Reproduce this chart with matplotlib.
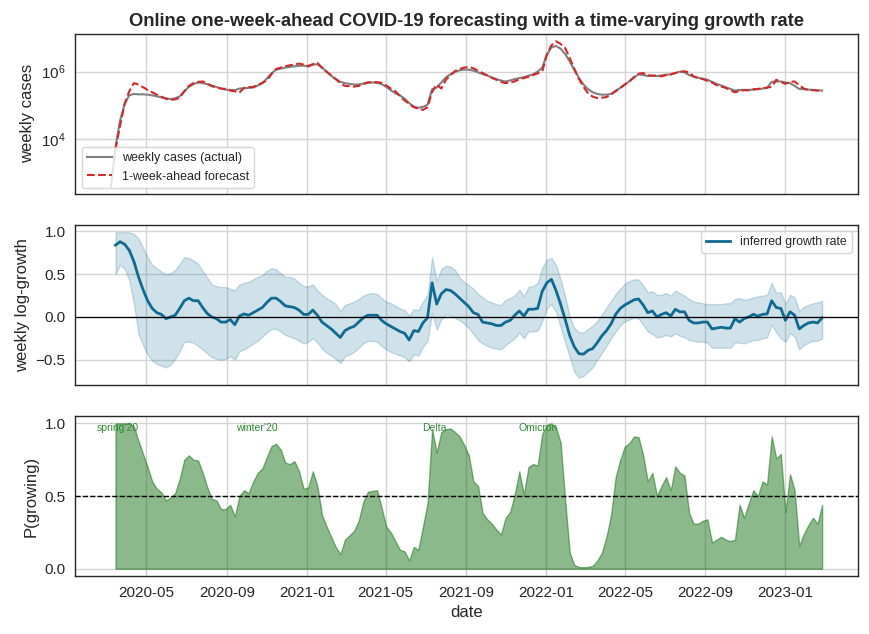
import numpy as np
import pandas as pd
import matplotlib
matplotlib.use("Agg")
import matplotlib.pyplot as plt
import matplotlib.dates as mdates
from matplotlib.ticker import FixedLocator

# ---------------- data (weekly) ----------------
actual_start = "2020-03-08"
model_start = "2020-03-15"

# log10 of weekly cases (actual), weekly from 2020-03-08
log10_actual = [
    2.60, 3.77, 4.55, 5.05, 5.30, 5.34, 5.33, 5.33, 5.32, 5.30, 5.27, 5.24, 5.21, 5.19,
    5.21, 5.27, 5.42, 5.55, 5.63, 5.68, 5.66, 5.63, 5.59, 5.55, 5.50, 5.47, 5.46, 5.45,
    5.50, 5.51, 5.52, 5.53, 5.59, 5.66, 5.80, 5.95, 6.06, 6.09, 6.12, 6.14, 6.16, 6.17,
    6.18, 6.15, 6.21, 6.22, 6.12, 6.00, 5.88, 5.78, 5.70, 5.66, 5.64, 5.62, 5.62, 5.65,
    5.68, 5.68, 5.67, 5.63, 5.55, 5.45, 5.36, 5.30, 5.20, 5.07, 4.97, 4.93, 4.96, 5.02,
    5.48, 5.53, 5.68, 5.83, 5.92, 5.99, 6.04, 6.06, 6.06, 6.03, 5.98, 5.93, 5.89, 5.83,
    5.78, 5.74, 5.71, 5.74, 5.78, 5.81, 5.84, 5.88, 5.92, 6.00, 6.12, 6.50, 6.72, 6.76,
    6.68, 6.52, 6.30, 6.05, 5.82, 5.62, 5.48, 5.39, 5.34, 5.32, 5.32, 5.34, 5.44, 5.52,
    5.62, 5.72, 5.83, 5.92, 5.90, 5.87, 5.88, 5.87, 5.89, 5.91, 5.92, 5.96, 6.00, 5.98,
    5.90, 5.85, 5.82, 5.79, 5.76, 5.70, 5.64, 5.59, 5.54, 5.49, 5.44, 5.46, 5.46, 5.46,
    5.47, 5.48, 5.50, 5.52, 5.70, 5.71, 5.71, 5.68, 5.66, 5.58, 5.49, 5.48, 5.47, 5.46,
    5.45, 5.44,
]

# log10 of the 1-week-ahead forecast, weekly from 2020-03-15
log10_forecast = [
    3.70, 4.40, 5.05, 5.42, 5.66, 5.62, 5.54, 5.46, 5.39, 5.32, 5.26, 5.20, 5.17, 5.18,
    5.23, 5.42, 5.58, 5.66, 5.70, 5.71, 5.64, 5.57, 5.53, 5.50, 5.49, 5.44, 5.42, 5.38,
    5.52, 5.54, 5.55, 5.60, 5.67, 5.74, 5.93, 6.08, 6.12, 6.16, 6.19, 6.21, 6.24, 6.21,
    6.17, 6.22, 6.26, 6.12, 6.00, 5.89, 5.78, 5.66, 5.58, 5.57, 5.56, 5.58, 5.63, 5.68,
    5.69, 5.69, 5.67, 5.59, 5.50, 5.42, 5.28, 5.15, 5.05, 4.95, 4.90, 4.87, 4.95, 5.40,
    5.62, 5.50, 5.76, 5.90, 6.02, 6.08, 6.12, 6.14, 6.10, 6.03, 5.96, 5.89, 5.82, 5.76,
    5.70, 5.66, 5.68, 5.71, 5.78, 5.81, 5.85, 5.90, 5.95, 6.01, 6.50, 6.78, 6.90, 6.82,
    6.70, 6.40, 6.08, 5.78, 5.55, 5.36, 5.26, 5.22, 5.23, 5.25, 5.33, 5.42, 5.52, 5.62,
    5.71, 5.84, 5.94, 5.96, 5.90, 5.88, 5.89, 5.86, 5.90, 5.92, 5.96, 6.00, 6.01, 5.98,
    5.86, 5.81, 5.78, 5.73, 5.68, 5.60, 5.56, 5.52, 5.45, 5.39, 5.43, 5.45, 5.45, 5.48,
    5.49, 5.51, 5.53, 5.55, 5.76, 5.70, 5.64, 5.70, 5.71, 5.60, 5.50, 5.46, 5.45, 5.44,
    5.42,
]

# inferred weekly log-growth (mean) and credible band, weekly from 2020-03-15
growth_mean = [
    0.84, 0.88, 0.85, 0.78, 0.65, 0.47, 0.32, 0.19, 0.10, 0.05, 0.03, -0.02, 0.00, 0.02,
    0.10, 0.19, 0.22, 0.19, 0.19, 0.11, 0.04, 0.00, -0.02, -0.06, -0.06, -0.03, -0.09, 0.01,
    0.035, 0.02, 0.05, 0.08, 0.11, 0.17, 0.22, 0.22, 0.18, 0.13, 0.12, 0.11, 0.08, 0.03,
    0.03, 0.08, 0.02, -0.06, -0.10, -0.14, -0.19, -0.24, -0.16, -0.13, -0.11, -0.06, -0.01, 0.02,
    0.02, 0.02, -0.04, -0.08, -0.11, -0.14, -0.17, -0.19, -0.27, -0.16, -0.17, -0.07, -0.01, 0.40,
    0.15, 0.27, 0.32, 0.31, 0.27, 0.22, 0.17, 0.12, 0.05, 0.03, -0.06, -0.07, -0.08, -0.10,
    -0.10, -0.06, -0.04, 0.02, 0.07, 0.01, 0.09, 0.09, 0.10, 0.30, 0.40, 0.44, 0.31, 0.15,
    -0.03, -0.22, -0.35, -0.43, -0.435, -0.39, -0.37, -0.30, -0.22, -0.16, -0.08, 0.03, 0.10, 0.14,
    0.17, 0.20, 0.21, 0.14, 0.05, 0.07, 0.00, 0.03, 0.05, 0.01, 0.09, 0.06, 0.06, -0.04,
    -0.07, -0.07, -0.06, -0.06, -0.14, -0.13, -0.12, -0.13, -0.13, -0.02, -0.06, -0.02, 0.00, 0.03,
    0.01, 0.03, 0.035, 0.19, 0.11, 0.10, -0.04, 0.06, 0.02, -0.14, -0.10, -0.07, -0.06, -0.07,
    -0.01,
]
growth_upper = [
    0.99, 0.99, 0.99, 0.99, 0.97, 0.92, 0.81, 0.70, 0.61, 0.57, 0.53, 0.50, 0.51, 0.55,
    0.62, 0.70, 0.69, 0.66, 0.62, 0.54, 0.46, 0.38, 0.36, 0.35, 0.35, 0.33, 0.31, 0.38,
    0.40, 0.41, 0.44, 0.47, 0.49, 0.54, 0.57, 0.56, 0.51, 0.47, 0.47, 0.45, 0.40, 0.36,
    0.36, 0.38, 0.31, 0.26, 0.22, 0.19, 0.15, 0.07, 0.14, 0.16, 0.18, 0.21, 0.25, 0.27,
    0.28, 0.27, 0.22, 0.18, 0.16, 0.13, 0.10, 0.08, 0.015, 0.09, 0.08, 0.18, 0.26, 0.70,
    0.42, 0.56, 0.60, 0.59, 0.55, 0.46, 0.41, 0.37, 0.33, 0.27, 0.23, 0.19, 0.17, 0.15,
    0.14, 0.20, 0.22, 0.25, 0.32, 0.24, 0.35, 0.36, 0.40, 0.58, 0.67, 0.69, 0.61, 0.44,
    0.24, 0.00, -0.13, -0.18, -0.18, -0.14, -0.10, -0.05, 0.03, 0.11, 0.19, 0.27, 0.33, 0.39,
    0.42, 0.44, 0.44, 0.37, 0.29, 0.30, 0.26, 0.26, 0.28, 0.25, 0.31, 0.28, 0.25, 0.21,
    0.18, 0.17, 0.16, 0.15, 0.15, 0.15, 0.15, 0.16, 0.16, 0.21, 0.22, 0.20, 0.21, 0.23,
    0.24, 0.25, 0.26, 0.40, 0.28, 0.29, 0.15, 0.26, 0.23, 0.07, 0.12, 0.14, 0.16, 0.17,
    0.19,
]
growth_lower = [
    0.50, 0.61, 0.56, 0.43, 0.16, -0.20, -0.33, -0.44, -0.51, -0.55, -0.57, -0.59, -0.56, -0.49,
    -0.40, -0.29, -0.29, -0.30, -0.34, -0.38, -0.43, -0.47, -0.49, -0.50, -0.49, -0.46, -0.50, -0.40,
    -0.38, -0.35, -0.31, -0.28, -0.23, -0.18, -0.14, -0.14, -0.17, -0.21, -0.23, -0.25, -0.28, -0.31,
    -0.29, -0.25, -0.30, -0.37, -0.42, -0.45, -0.49, -0.54, -0.46, -0.44, -0.41, -0.36, -0.31, -0.28,
    -0.28, -0.29, -0.34, -0.38, -0.41, -0.43, -0.45, -0.47, -0.52, -0.44, -0.45, -0.35, -0.28, 0.05,
    -0.15, -0.03, 0.03, 0.02, -0.01, -0.04, -0.08, -0.13, -0.20, -0.27, -0.31, -0.34, -0.36, -0.37,
    -0.38, -0.33, -0.29, -0.25, -0.18, -0.25, -0.17, -0.17, -0.16, -0.05, 0.10, 0.15, 0.06, -0.12,
    -0.30, -0.47, -0.64, -0.71, -0.69, -0.64, -0.59, -0.50, -0.42, -0.34, -0.25, -0.17, -0.10, -0.05,
    -0.03, -0.01, -0.02, -0.09, -0.17, -0.20, -0.24, -0.23, -0.21, -0.23, -0.19, -0.22, -0.24, -0.27,
    -0.28, -0.29, -0.29, -0.30, -0.36, -0.36, -0.36, -0.36, -0.36, -0.30, -0.30, -0.31, -0.29, -0.27,
    -0.27, -0.25, -0.24, -0.09, -0.18, -0.25, -0.29, -0.19, -0.23, -0.38, -0.33, -0.30, -0.28, -0.28,
    -0.25,
]

# posterior probability that the epidemic is growing, weekly from 2020-03-15
p_growing = [
    1.00, 1.00, 1.00, 1.00, 0.98, 0.88, 0.79, 0.70, 0.60, 0.55, 0.525, 0.47, 0.49, 0.52,
    0.62, 0.75, 0.78, 0.75, 0.745, 0.66, 0.56, 0.48, 0.47, 0.41, 0.41, 0.44, 0.36, 0.50,
    0.54, 0.52, 0.60, 0.66, 0.69, 0.77, 0.845, 0.86, 0.82, 0.73, 0.72, 0.74, 0.67, 0.55,
    0.56, 0.67, 0.57, 0.37, 0.29, 0.22, 0.15, 0.10, 0.20, 0.23, 0.26, 0.33, 0.46, 0.53,
    0.535, 0.54, 0.42, 0.29, 0.25, 0.19, 0.13, 0.12, 0.056, 0.15, 0.13, 0.29, 0.45, 0.96,
    0.80, 0.94, 0.96, 0.965, 0.94, 0.91, 0.85, 0.78, 0.60, 0.57, 0.385, 0.34, 0.31, 0.27,
    0.235, 0.35, 0.39, 0.51, 0.67, 0.51, 0.70, 0.72, 0.71, 0.93, 0.99, 1.00, 0.97, 0.87,
    0.47, 0.11, 0.025, 0.012, 0.01, 0.012, 0.02, 0.056, 0.11, 0.22, 0.37, 0.63, 0.75, 0.84,
    0.865, 0.91, 0.905, 0.78, 0.60, 0.66, 0.50, 0.57, 0.63, 0.54, 0.705, 0.66, 0.64, 0.385,
    0.31, 0.31, 0.33, 0.34, 0.18, 0.20, 0.22, 0.20, 0.19, 0.20, 0.44, 0.35, 0.45, 0.54,
    0.50, 0.60, 0.58, 0.91, 0.76, 0.79, 0.39, 0.65, 0.54, 0.157, 0.24, 0.30, 0.35, 0.31,
    0.44,
]

wave_labels = ["spring'20", "winter'20", "Delta", "Omicron"]
wave_dates = ["2020-03-19", "2020-10-17", "2021-07-14", "2021-12-20"]

p_ticks = [0.0, 0.5, 1.0]
case_ticks = [1e4, 1e6]

# ---------------- build ----------------
actual_dates = pd.date_range(actual_start, periods=len(log10_actual), freq="7D")
model_dates = pd.date_range(model_start, periods=len(growth_mean), freq="7D")
actual = 10 ** np.array(log10_actual)
forecast = 10 ** np.array(log10_forecast)

plt.rcParams.update({
    "font.family": ["Liberation Sans", "DejaVu Sans"],
    "mathtext.fontset": "custom",
    "mathtext.rm": "Liberation Sans",
    "mathtext.it": "Liberation Sans:italic",
    "mathtext.bf": "Liberation Sans:bold",
    "axes.edgecolor": "#262626",
    "axes.linewidth": 1.0,
    "axes.grid": True,
    "axes.axisbelow": True,
    "grid.color": "#d4d4d4",
    "grid.linewidth": 1.0,
    "xtick.bottom": False,
    "ytick.left": False,
    "xtick.labelsize": 11,
    "ytick.labelsize": 11,
    "axes.labelsize": 12,
    "text.color": "#262626",
    "axes.labelcolor": "#262626",
    "xtick.color": "#262626",
    "ytick.color": "#262626",
})

fig, axes = plt.subplots(3, 1, figsize=(8.69, 6.34), dpi=100, sharex=True)
fig.subplots_adjust(left=0.0867, right=0.987, top=0.9464, bottom=0.0915, hspace=0.195)
ax1, ax2, ax3 = axes

# panel 1
ax1.plot(actual_dates, actual, color="gray", lw=1.5, label="weekly cases (actual)")
ax1.plot(model_dates, forecast, color="#d62728", lw=1.5, ls="--", label="1-week-ahead forecast")
ax1.set_yscale("log")
ax1.yaxis.set_major_locator(FixedLocator(case_ticks))
ax1.yaxis.set_minor_locator(FixedLocator([]))
ax1.set_ylabel("weekly cases")
ax1.legend(loc="lower left", fontsize=9)
ax1.set_title("Online one-week-ahead COVID-19 forecasting with a time-varying growth rate",
              fontsize=13.2, fontweight="bold")

# panel 2
blue = "#106a92"
ax2.fill_between(model_dates, growth_lower, growth_upper, color=blue, alpha=0.2, lw=1)
ax2.plot(model_dates, growth_mean, color=blue, lw=2, label="inferred growth rate")
ax2.axhline(0, color="black", lw=0.9)
ax2.set_ylabel("weekly log-growth")
ax2.legend(loc="upper right", fontsize=8.8)

# panel 3
ax3.fill_between(model_dates, 0, p_growing, color="darkgreen", alpha=0.45, lw=1)
ax3.axhline(0.5, color="black", lw=1, ls="--")
for lab, d in zip(wave_labels, wave_dates):
    ax3.text(pd.Timestamp(d), 1.005, lab, ha="center", va="top", fontsize=7.5, color="#2e8b2e")
ax3.set_yticks(p_ticks)
ax3.set_yticklabels([f"{t:.1f}" for t in p_ticks])
ax3.set_ylabel("P(growing)")
ax3.set_xlabel("date")

ax3.xaxis.set_major_locator(mdates.MonthLocator(bymonth=[1, 5, 9]))
ax3.xaxis.set_major_formatter(mdates.DateFormatter("%Y-%m"))

fig.savefig("out.png", dpi=100)
